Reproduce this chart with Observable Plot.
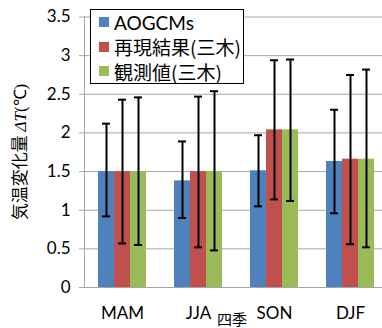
<!DOCTYPE html>
<html>
<head>
<meta charset="utf-8">
<script src="https://cdn.jsdelivr.net/npm/d3@7"></script>
<script src="https://cdn.jsdelivr.net/npm/@observablehq/plot@0.6"></script>
<style>
  html, body { margin: 0; padding: 0; background: #fff; overflow: hidden; }
  #wrap { position: relative; width: 382px; height: 328px; overflow: hidden; }
  #wrap svg { display: block; }
  .legend { position: absolute; left: 90px; top: 9px; width: 152px; height: 73px; border: 1px solid #000; background: #fff;
    font-family: "Noto Sans CJK JP", Lato, sans-serif; font-size: 19px; color: #000; }
  .legend .row { position: absolute; left: 8px; height: 22px; display: flex; align-items: center; white-space: nowrap; }
  .legend .sw { width: 10px; height: 10px; margin-right: 5px; flex: none; }
  .ylab { position: absolute; left: 18px; top: 152px; transform: translate(-50%, -50%) rotate(-90deg);
    white-space: nowrap; font-family: "Noto Sans CJK JP", sans-serif; font-size: 17px; color: #000; }
  .ylab i { font-family: "Liberation Serif", serif; font-style: italic; }
  .ylab .s { font-family: "Liberation Serif", serif; }
  .xlab { position: absolute; left: 232px; top: 311px; transform: translateX(-50%); white-space: nowrap;
    font-family: "Noto Sans CJK JP", sans-serif; font-size: 15px; color: #000; line-height: 1; }
</style>
</head>
<body>
<div id="wrap"></div>
<script>
const seasons = ["MAM", "JJA", "SON", "DJF"];
const series = ["AOGCMs", "再現結果(三木)", "観測値(三木)"];
const colors = ["#4f81bd", "#c0504d", "#9bbb59"];

const aogcmValues = [1.50, 1.38, 1.51, 1.63];
const aogcmLow    = [0.92, 0.90, 1.05, 0.96];
const aogcmHigh   = [2.12, 1.89, 1.97, 2.30];

const saigenValues = [1.50, 1.50, 2.04, 1.66];
const saigenLow    = [0.57, 0.52, 1.14, 0.56];
const saigenHigh   = [2.43, 2.47, 2.94, 2.75];

const kansokuValues = [1.50, 1.50, 2.04, 1.66];
const kansokuLow    = [0.55, 0.48, 1.12, 0.52];
const kansokuHigh   = [2.46, 2.54, 2.95, 2.82];

const yTicks = [0, 0.5, 1, 1.5, 2, 2.5, 3, 3.5];

const yLabel = "気温変化量";
const xLabel = "四季";

const seriesData = [
  [aogcmValues, aogcmLow, aogcmHigh],
  [saigenValues, saigenLow, saigenHigh],
  [kansokuValues, kansokuLow, kansokuHigh]
];
const data = [];
seasons.forEach((s, i) => {
  series.forEach((name, j) => {
    data.push({season: s, series: name, value: seriesData[j][0][i], low: seriesData[j][1][i], high: seriesData[j][2][i]});
  });
});

const grid = "#a6a6a6";

const chart = Plot.plot({
  width: 382,
  height: 328,
  marginLeft: 83,
  marginRight: 0,
  marginTop: 16,
  marginBottom: 41,
  style: {fontFamily: "Lato, 'Noto Sans', sans-serif", fontSize: "16px", color: "#000", background: "#fff"},
  fx: {domain: seasons, range: [83, 388.5], padding: 0, label: null, axis: null},
  x: {domain: series, paddingInner: 0, paddingOuter: 0.7875, axis: null},
  y: {domain: [0, 3.5], range: [287, 16.5], label: null, axis: null},
  color: {domain: series, range: colors},
  marks: [
    Plot.gridY(yTicks, {stroke: grid, strokeOpacity: 1}),
    Plot.frame({anchor: "left", facetAnchor: "left", stroke: grid}),
    Plot.axisY(yTicks, {tickSize: 5, tickPadding: 9, stroke: grid, fill: "#000", tickFormat: d => `${d}`, label: null, fontSize: 17}),
    Plot.axisFx({anchor: "bottom", tickSize: 0, tickPadding: 19, label: null, fontSize: 17}),
    Plot.barY(data, {fx: "season", x: "series", y: "value", fill: "series"}),
    Plot.ruleX(data, {fx: "season", x: "series", y1: "low", y2: "high", stroke: "#000", strokeWidth: 2}),
    Plot.tickY(data, {fx: "season", x: "series", y: "low", stroke: "#000", strokeWidth: 2, insetLeft: 4, insetRight: 4}),
    Plot.tickY(data, {fx: "season", x: "series", y: "high", stroke: "#000", strokeWidth: 2, insetLeft: 4, insetRight: 4})
  ]
});

const wrap = document.getElementById("wrap");
wrap.appendChild(chart);

// legend
const legend = document.createElement("div");
legend.className = "legend";
series.forEach((name, j) => {
  const row = document.createElement("div");
  row.className = "row";
  row.style.top = (1 + j * 24.5) + "px";
  const sw = document.createElement("span");
  sw.className = "sw";
  sw.style.background = colors[j];
  const t = document.createElement("span");
  t.textContent = name;
  if (j === 0) t.style.fontFamily = "Lato, sans-serif";
  row.appendChild(sw);
  row.appendChild(t);
  legend.appendChild(row);
});
wrap.appendChild(legend);

// y label
const yl = document.createElement("div");
yl.className = "ylab";
yl.innerHTML = yLabel + " <i>ΔT</i><span class='s'>(℃)</span>";
wrap.appendChild(yl);

// x label
const xl = document.createElement("div");
xl.className = "xlab";
xl.textContent = xLabel;
wrap.appendChild(xl);
</script>
</body>
</html>
